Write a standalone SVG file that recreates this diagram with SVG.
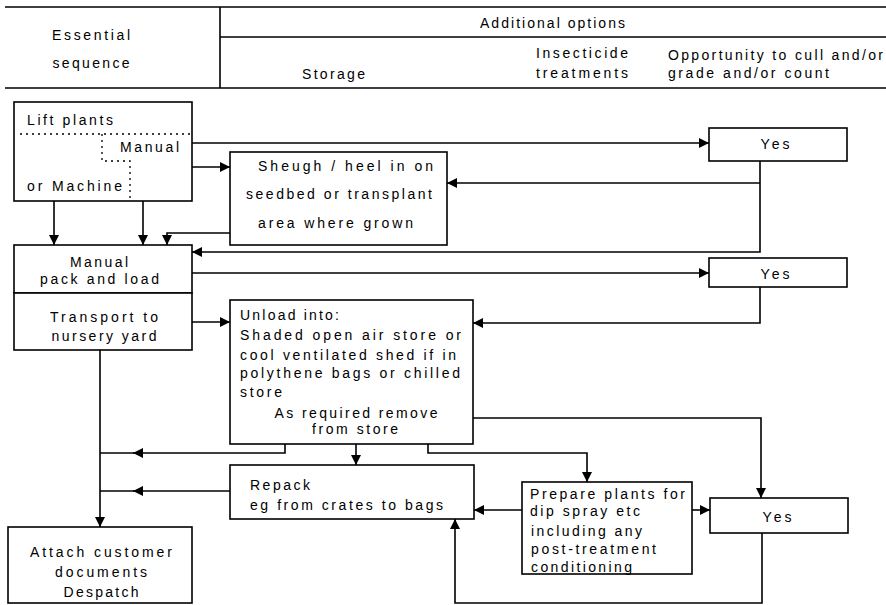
<svg xmlns="http://www.w3.org/2000/svg" width="886" height="605" viewBox="0 0 886 605">
<style>
text{font-family:"Liberation Sans",Arial,sans-serif;font-size:14px;fill:#000}
.c{text-anchor:middle}
.box{fill:#fff;stroke:#000;stroke-width:1.6}
.ln{fill:none;stroke:#000;stroke-width:1.6}
.dot{fill:none;stroke:#000;stroke-width:1.3;stroke-dasharray:2 4}
</style>
<defs>
<marker id="ah" markerWidth="10" markerHeight="10" refX="10" refY="5" orient="auto" markerUnits="userSpaceOnUse">
<path d="M0,0 L10,5 L0,10 z" fill="#000"/>
</marker>
</defs>
<g id="header">
<path class="ln" d="M5,7 H886 M5,88 H886 M220,7 V88 M220,37 H886"/>
<text class="c" x="91" y="40" textLength="78" lengthAdjust="spacing">Essential</text>
<text class="c" x="91" y="68" textLength="77" lengthAdjust="spacing">sequence</text>
<text x="480" y="28" textLength="145" lengthAdjust="spacing">Additional options</text>
<text x="302" y="79" textLength="63" lengthAdjust="spacing">Storage</text>
<text x="536" y="58" textLength="92" lengthAdjust="spacing">Insecticide</text>
<text x="536" y="78" textLength="92" lengthAdjust="spacing">treatments</text>
<text x="668" y="60" textLength="215" lengthAdjust="spacing">Opportunity to cull and/or</text>
<text x="668" y="78" textLength="161" lengthAdjust="spacing">grade and/or count</text>
</g>
<g id="lift">
<rect class="box" x="14" y="102" width="178" height="99"/>
<path class="dot" d="M20,134 H192 M102,134 V161 H130 V201"/>
<text x="27" y="125" textLength="86" lengthAdjust="spacing">Lift plants</text>
<text x="120" y="152" textLength="59" lengthAdjust="spacing">Manual</text>
<text x="27" y="191" textLength="95" lengthAdjust="spacing">or Machine</text>
</g>
<g id="sheugh">
<rect class="box" x="230" y="152" width="217" height="93"/>
<text x="258" y="171" textLength="175" lengthAdjust="spacing">Sheugh / heel in on</text>
<text x="246" y="199" textLength="186" lengthAdjust="spacing">seedbed or transplant</text>
<text x="258" y="228" textLength="155" lengthAdjust="spacing">area where grown</text>
</g>
<g id="pack">
<rect class="box" x="14" y="245" width="178" height="48"/>
<text class="c" x="99" y="267" textLength="58" lengthAdjust="spacing">Manual</text>
<text class="c" x="99.5" y="284" textLength="119" lengthAdjust="spacing">pack and load</text>
</g>
<g id="transport">
<rect class="box" x="14" y="293" width="178" height="57"/>
<text class="c" x="104" y="322" textLength="108" lengthAdjust="spacing">Transport to</text>
<text class="c" x="104" y="341" textLength="105" lengthAdjust="spacing">nursery yard</text>
</g>
<g id="unload">
<rect class="box" x="230" y="300" width="243" height="144"/>
<text x="240" y="320" textLength="99" lengthAdjust="spacing">Unload into:</text>
<text x="240" y="340" textLength="221" lengthAdjust="spacing">Shaded open air store or</text>
<text x="240" y="360" textLength="216" lengthAdjust="spacing">cool ventilated shed if in</text>
<text x="240" y="378" textLength="220" lengthAdjust="spacing">polythene bags or chilled</text>
<text x="240" y="397" textLength="42" lengthAdjust="spacing">store</text>
<text class="c" x="356" y="418" textLength="163" lengthAdjust="spacing">As required remove</text>
<text class="c" x="355" y="434" textLength="86" lengthAdjust="spacing">from store</text>
</g>
<g id="repack">
<rect class="box" x="230" y="465" width="244" height="54"/>
<text x="250" y="490" textLength="60" lengthAdjust="spacing">Repack</text>
<text x="250" y="510" textLength="193" lengthAdjust="spacing">eg from crates to bags</text>
</g>
<g id="attach">
<rect class="box" x="8" y="527" width="184" height="76"/>
<text class="c" x="101" y="557" textLength="142" lengthAdjust="spacing">Attach customer</text>
<text class="c" x="101" y="577" textLength="92" lengthAdjust="spacing">documents</text>
<text class="c" x="101" y="597" textLength="75" lengthAdjust="spacing">Despatch</text>
</g>
<g id="prepare">
<rect class="box" x="522" y="482" width="170" height="92"/>
<text x="530" y="499" textLength="155" lengthAdjust="spacing">Prepare plants for</text>
<text x="530" y="516" textLength="110" lengthAdjust="spacing">dip spray etc</text>
<text x="531" y="536" textLength="111" lengthAdjust="spacing">including any</text>
<text x="531" y="554" textLength="125" lengthAdjust="spacing">post-treatment</text>
<text x="531" y="572" textLength="101" lengthAdjust="spacing">conditioning</text>
</g>
<g id="yes1">
<rect class="box" x="709" y="128" width="138" height="33"/>
<text class="c" x="775" y="149" textLength="29" lengthAdjust="spacing">Yes</text>
</g>
<g id="yes2">
<rect class="box" x="709" y="258" width="138" height="29"/>
<text class="c" x="775" y="279" textLength="29" lengthAdjust="spacing">Yes</text>
</g>
<g id="yes3">
<rect class="box" x="710" y="498" width="138" height="35"/>
<text class="c" x="777" y="522" textLength="29" lengthAdjust="spacing">Yes</text>
</g>
<g id="connectors">
<path class="ln" marker-end="url(#ah)" d="M192,143 H709"/>
<path class="ln" marker-end="url(#ah)" d="M192,167 H230"/>
<path class="ln" marker-end="url(#ah)" d="M54,201 V245"/>
<path class="ln" marker-end="url(#ah)" d="M143,201 V245"/>
<path class="ln" marker-end="url(#ah)" d="M230,233 H167 V245"/>
<path class="ln" marker-end="url(#ah)" d="M760,161 V252 H192"/>
<path class="ln" marker-end="url(#ah)" d="M760,183 H447"/>
<path class="ln" marker-end="url(#ah)" d="M192,273 H709"/>
<path class="ln" marker-end="url(#ah)" d="M760,287 V323 H473"/>
<path class="ln" marker-end="url(#ah)" d="M192,322 H230"/>
<path class="ln" marker-end="url(#ah)" d="M100,350 V527"/>
<path class="ln" marker-end="url(#ah)" d="M285,444 V453 H133"/>
<path class="ln" d="M134,453 H100"/>
<path class="ln" marker-end="url(#ah)" d="M230,491 H133"/>
<path class="ln" d="M134,491 H100"/>
<path class="ln" marker-end="url(#ah)" d="M356,444 V465"/>
<path class="ln" marker-end="url(#ah)" d="M428,444 V453 H587 V482"/>
<path class="ln" marker-end="url(#ah)" d="M522,510 H474"/>
<path class="ln" marker-end="url(#ah)" d="M692,510 H710"/>
<path class="ln" marker-end="url(#ah)" d="M473,418 H761 V498"/>
<path class="ln" marker-end="url(#ah)" d="M762,533 V603 H455 V519"/>
</g>
</svg>
